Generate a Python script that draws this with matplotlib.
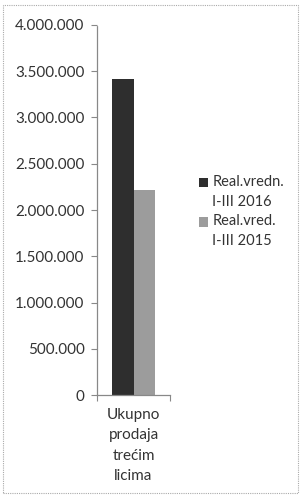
import matplotlib.pyplot as plt
import numpy as np
from matplotlib.ticker import FuncFormatter
from matplotlib.patches import Rectangle
from matplotlib.legend_handler import HandlerPatch

plt.rcParams['font.family'] = ['Lato', 'DejaVu Sans']

categories = ['Ukupno\nprodaja\ntrećim\nlicima']
series_names = ['Real.vredn.\nI-III 2016', 'Real.vred.\nI-III 2015']
values_2016 = [3420000]
values_2015 = [2215000]
colors = ['#2e2e2e', '#9c9c9c']

fig = plt.figure(figsize=(3.02, 4.98), dpi=100)
ax = fig.add_axes([97 / 302, 103 / 498, 73 / 302, 370 / 498])

x = np.arange(len(categories))
w = 0.3
b1 = ax.bar(x - w / 2, values_2016, w, color=colors[0])
b2 = ax.bar(x + w / 2, values_2015, w, color=colors[1])

ax.set_xlim(-0.5, 0.5)
ax.set_ylim(0, 4000000)
ax.set_yticks(np.arange(0, 4000001, 500000))
ax.yaxis.set_major_formatter(FuncFormatter(lambda v, p: f'{int(v):,}'.replace(',', '.')))
ax.set_xticks(x)
ax.set_xticklabels(categories, fontsize=11, color='#333333', linespacing=1.6)
ax.set_xticks([-0.5, 0.5], minor=True)
ax.tick_params(axis='y', labelsize=11, colors='#333333', length=4, width=0.8, color='#888888', pad=5)
ax.tick_params(axis='x', which='major', length=0, pad=9)
ax.tick_params(axis='x', which='minor', length=4, width=0.8, color='#888888')

for s in ['top', 'right']:
    ax.spines[s].set_visible(False)
for s in ['left', 'bottom']:
    ax.spines[s].set_color('#888888')
    ax.spines[s].set_linestyle((0, (1, 1)))
    ax.spines[s].set_linewidth(0.9)


# legend square sits next to the first line of the label
def top_square(legend, orig_handle, xdescent, ydescent, width, height, fontsize):
    return Rectangle((-xdescent, -ydescent + 7.0), width, height)


leg = ax.legend([b1.patches[0], b2.patches[0]], series_names,
                loc='upper left', bbox_to_anchor=(186 / 302, 336 / 498), bbox_transform=fig.transFigure,
                frameon=False, fontsize=10.5, handlelength=0.6, handleheight=0.6, handletextpad=0.3,
                labelspacing=0.35, labelcolor='#333333',
                handler_map={Rectangle: HandlerPatch(patch_func=top_square)})
for t in leg.get_texts():
    t.set_linespacing(1.55)

fig.patches.append(Rectangle((3 / 302, 5 / 498), 295 / 302, 488 / 498, transform=fig.transFigure,
                             fill=False, edgecolor='#aaaaaa', linewidth=0.8, linestyle=(0, (1, 1))))

fig.savefig('out.png', dpi=100)
